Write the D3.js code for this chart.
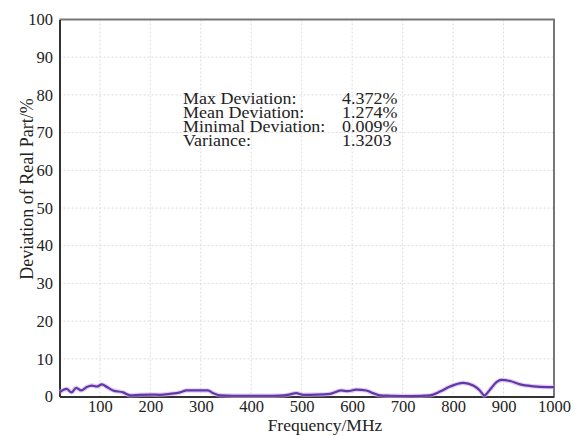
<!DOCTYPE html>
<html><head><meta charset="utf-8">
<script src="https://cdn.jsdelivr.net/npm/d3@7"></script>
<style>body{margin:0;background:#fff}svg{display:block}</style>
</head><body><svg id="c" width="576" height="436"></svg>
<script>
const freq = [20, 34, 44, 53, 63, 74, 84, 94, 104, 114, 126, 146, 160, 180, 200, 219, 239, 259, 272, 298, 314, 324, 338, 364, 400, 430, 457, 475, 489, 503, 530, 556, 578, 591, 608, 628, 641, 655, 675, 721, 754, 774, 794, 820, 840, 853, 862, 873, 886, 896, 913, 933, 959, 986, 1000];
const dev = [1.1, 2.0, 1.1, 2.3, 1.6, 2.5, 2.9, 2.65, 3.2, 2.5, 1.6, 1.1, 0.3, 0.45, 0.5, 0.45, 0.7, 1.1, 1.6, 1.6, 1.6, 0.9, 0.3, 0.2, 0.2, 0.2, 0.25, 0.5, 0.9, 0.45, 0.5, 0.7, 1.6, 1.4, 1.8, 1.6, 0.9, 0.3, 0.2, 0.1, 0.3, 1.3, 2.65, 3.6, 2.9, 1.6, 0.3, 1.8, 3.8, 4.4, 4.1, 3.2, 2.7, 2.5, 2.5];
const xTicks = [100, 200, 300, 400, 500, 600, 700, 800, 900, 1000];
const yTicks = [0, 10, 20, 30, 40, 50, 60, 70, 80, 90, 100];
const statLabels = ["Max Deviation:", "Mean Deviation:", "Minimal Deviation:", "Variance:"];
const statValues = ["4.372%", "1.274%", "0.009%", "1.3203"];

const FONT = "Liberation Serif";
const svg = d3.select("#c");
const L = 59.5, R = 554, T = 19.5, B = 396.5;
const x = d3.scaleLinear().domain([20, 1000]).range([L, R]);
const y = d3.scaleLinear().domain([0, 100]).range([B, T]);

// grid
svg.append("g").selectAll("line").data(xTicks.filter(d => d < 1000)).join("line")
  .attr("x1", d => x(d)).attr("x2", d => x(d)).attr("y1", T).attr("y2", B)
  .attr("stroke", "#dcdcdc").attr("stroke-width", 1).attr("stroke-dasharray", "2,2");
svg.append("g").selectAll("line").data(yTicks.filter(d => d > 0 && d < 100)).join("line")
  .attr("x1", L).attr("x2", R).attr("y1", d => y(d)).attr("y2", d => y(d))
  .attr("stroke", "#dcdcdc").attr("stroke-width", 1).attr("stroke-dasharray", "2,2");

// border top/right
svg.append("path").attr("d", `M${L},${T}H${R}V${B}`).attr("fill", "none").attr("stroke", "#777").attr("stroke-width", 2);

// axes (line + ticks from d3 axis; tick labels re-fonted)
const xa = svg.append("g").attr("transform", `translate(0,${B})`)
  .call(d3.axisBottom(x).tickValues(xTicks).tickSize(0).tickPadding(4).tickFormat(d3.format("d")));
const ya = svg.append("g").attr("transform", `translate(${L},0)`)
  .call(d3.axisLeft(y).tickValues(yTicks).tickSize(0).tickPadding(6.5).tickFormat(d3.format("d")));
[xa, ya].forEach(a => {
  a.attr("font-family", null).attr("font-size", null);
  a.select(".domain").attr("stroke", "#333").attr("stroke-width", 2);
  a.selectAll(".tick text").each(function() {
    const t = d3.select(this);
    t.attr("font-family", FONT).attr("font-size", 16.5).attr("fill", "#222");
  });
});

// data line
const line = d3.line().x((d, i) => x(freq[i])).y(d => y(d)).curve(d3.curveMonotoneX);
svg.append("path").datum(dev).attr("d", line).attr("fill", "none")
  .attr("stroke", "#c9b0ec").attr("stroke-width", 4.5).attr("stroke-opacity", 0.6);
svg.append("path").datum(dev).attr("d", line).attr("fill", "none")
  .attr("stroke", "#6436a6").attr("stroke-width", 2.2);

// axis labels
svg.append("text").attr("x", 325).attr("y", 431).attr("text-anchor", "middle").attr("font-size", 17.5).attr("font-family", FONT).attr("fill", "#222").text("Frequency/MHz");
svg.append("text").attr("transform", "translate(33,189) rotate(-90)").attr("text-anchor", "middle").attr("font-size", 18).attr("font-family", FONT).attr("fill", "#222").text("Deviation of Real Part/%");

// stats
const sg = svg.append("g");
const stretch = 1.09;
statLabels.forEach((s, i) => {
  const yy = 104 + i * 14;
  const t = sg.append("text").attr("x", 183).attr("y", yy).attr("font-size", 16.5).attr("font-family", FONT).attr("fill", "#222").text(s);
  const w = t.node().getComputedTextLength() * stretch;
  t.attr("textLength", w).attr("lengthAdjust", "spacingAndGlyphs");
  const v = sg.append("text").attr("x", Math.max(342, 183 + w + 4)).attr("y", yy).attr("font-size", 16.5).attr("font-family", FONT).attr("fill", "#222").text(statValues[i]);
  v.attr("textLength", v.node().getComputedTextLength() * stretch).attr("lengthAdjust", "spacingAndGlyphs");
});
</script></body></html>
